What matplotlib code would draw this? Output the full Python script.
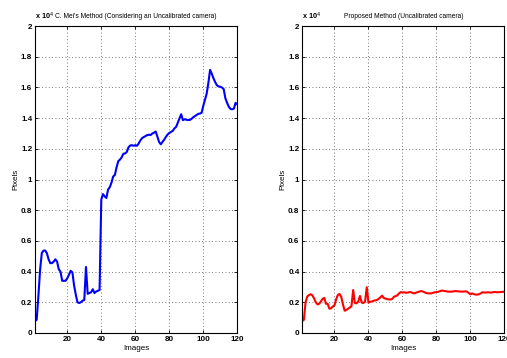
import numpy as np
import matplotlib
matplotlib.use('Agg')
import matplotlib.pyplot as plt

# image index 1..120
images = np.arange(1, 121)

# C. Mei's method, pixels (x 10^4)
mei_error = [
    0.076, 0.087, 0.24, 0.41, 0.52, 0.537, 0.537, 0.52, 0.48, 0.455,
    0.455, 0.465, 0.48, 0.465, 0.415, 0.40, 0.34, 0.34, 0.34, 0.357,
    0.38, 0.405, 0.395, 0.31, 0.25, 0.20, 0.195, 0.20, 0.21, 0.215,
    0.43, 0.255, 0.26, 0.265, 0.285, 0.26, 0.27, 0.275, 0.28, 0.87,
    0.905, 0.89, 0.88, 0.935, 0.95, 0.98, 1.02, 1.03, 1.08, 1.12,
    1.13, 1.145, 1.168, 1.17, 1.18, 1.21, 1.222, 1.224, 1.22, 1.224,
    1.22, 1.235, 1.255, 1.27, 1.277, 1.283, 1.29, 1.292, 1.29, 1.30,
    1.305, 1.313, 1.28, 1.245, 1.23, 1.245, 1.26, 1.278, 1.293, 1.304,
    1.31, 1.317, 1.333, 1.343, 1.37, 1.398, 1.426, 1.387, 1.393, 1.39,
    1.388, 1.388, 1.395, 1.405, 1.413, 1.42, 1.428, 1.43, 1.435, 1.48,
    1.52, 1.56, 1.63, 1.715, 1.69, 1.66, 1.635, 1.615, 1.607, 1.605,
    1.60, 1.59, 1.53, 1.50, 1.475, 1.46, 1.458, 1.462, 1.50, 1.49,
]

# proposed method, pixels (x 10^4)
proposed_error = [
    0.078, 0.085, 0.20, 0.238, 0.247, 0.252, 0.245, 0.225, 0.20, 0.186,
    0.19, 0.205, 0.222, 0.228, 0.19, 0.19, 0.158, 0.16, 0.172, 0.18,
    0.22, 0.248, 0.254, 0.235, 0.185, 0.145, 0.15, 0.158, 0.165, 0.175,
    0.28, 0.195, 0.193, 0.205, 0.241, 0.198, 0.195, 0.205, 0.298, 0.197,
    0.203, 0.205, 0.21, 0.212, 0.215, 0.222, 0.232, 0.243, 0.228, 0.224,
    0.22, 0.219, 0.218, 0.222, 0.236, 0.24, 0.245, 0.258, 0.266, 0.264,
    0.265, 0.262, 0.263, 0.266, 0.266, 0.26, 0.258, 0.263, 0.266, 0.27,
    0.273, 0.27, 0.265, 0.26, 0.258, 0.258, 0.258, 0.262, 0.265, 0.266,
    0.268, 0.272, 0.276, 0.275, 0.273, 0.271, 0.269, 0.269, 0.269, 0.271,
    0.273, 0.272, 0.271, 0.27, 0.269, 0.27, 0.271, 0.269, 0.26, 0.252,
    0.258, 0.253, 0.25, 0.25, 0.252, 0.258, 0.265, 0.264, 0.263, 0.265,
    0.264, 0.263, 0.265, 0.267, 0.266, 0.265, 0.266, 0.267, 0.268, 0.269,
]

titles = ["C. Mei's Method (Considering an Uncalibrated camera)",
          "Proposed Method (Uncalibrated camera)"]
x_ticks = [20, 40, 60, 80, 100, 120]
y_ticks = [0, 0.2, 0.4, 0.6, 0.8, 1, 1.2, 1.4, 1.6, 1.8, 2]
y_tick_labels = ['0', '0.2', '0.4', '0.6', '0.8', '1', '1.2', '1.4', '1.6', '1.8', '2']

plt.rcParams['font.family'] = ['Liberation Sans', 'DejaVu Sans']

fig = plt.figure(figsize=(5.07, 3.58), dpi=100)
ax1 = fig.add_axes([0.069, 0.070, 0.399, 0.857])
ax2 = fig.add_axes([0.596, 0.070, 0.399, 0.857])

for ax, data, color, title in [(ax1, mei_error, '#0000ff', titles[0]),
                               (ax2, proposed_error, '#ff0000', titles[1])]:
    ax.plot(images, data, color=color, lw=1.5)
    ax.set_xlim(1, 120)
    ax.set_ylim(0, 2)
    ax.set_xticks(x_ticks)
    ax.set_yticks(y_ticks)
    ax.set_yticklabels(y_tick_labels)
    ax.tick_params(direction='in', length=2.5, width=0.6, labelsize=5.8,
                   top=True, right=True, pad=2)
    for lbl in ax.get_xticklabels() + ax.get_yticklabels():
        lbl.set_fontweight('bold')
    ax.grid(True, linestyle=(0, (1, 3)), color='0.3', lw=0.6)
    for sp in ax.spines.values():
        sp.set_linewidth(0.8)
    ax.set_title(title, fontsize=4.8, pad=6)
    ax.set_xlabel('Images', fontsize=5.8, labelpad=2)
    ax.set_ylabel('Pixels', fontsize=5.8, labelpad=1)
    ax.text(0.0, 1.015, r'x 10$^4$', transform=ax.transAxes, fontsize=5.2,
            ha='left', va='bottom', fontweight='bold')

fig.savefig('out.png', dpi=100)
